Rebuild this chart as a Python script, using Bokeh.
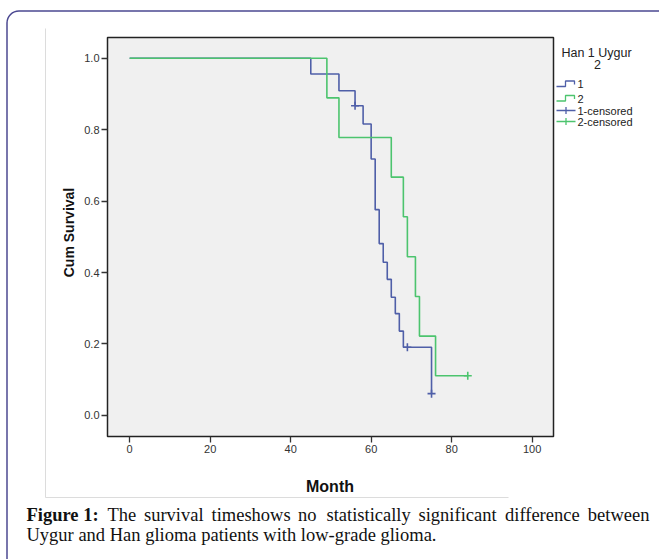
import math
from bokeh.plotting import figure
from bokeh.models import (Range1d, Label, BoxAnnotation, PolyAnnotation,
                          FixedTicker, PrintfTickFormatter)
from bokeh.embed import file_html
from bokeh.resources import INLINE

# ---- data ----
han_month = [0, 45, 52, 56, 58, 60, 61, 62, 63, 64, 65, 66, 67, 68, 75]
han_surv = [1.0, 0.956, 0.909, 0.867, 0.816, 0.718, 0.576, 0.481, 0.429,
            0.381, 0.331, 0.285, 0.236, 0.191, 0.061]
han_cens_month = [56, 69, 75]
han_cens_surv = [0.867, 0.191, 0.061]

uyg_month = [0, 49, 52, 65, 68, 69, 71, 72, 76]
uyg_surv = [1.0, 0.889, 0.778, 0.667, 0.556, 0.444, 0.333, 0.222, 0.111]
uyg_cens_month = [84]
uyg_cens_surv = [0.111]

x_ticks = [0, 20, 40, 60, 80, 100]
y_ticks = [0.0, 0.2, 0.4, 0.6, 0.8, 1.0]

legend_title = "Han 1 Uygur"
legend_title2 = "2"
legend_labels = ["1", "2", "1-censored", "2-censored"]

caption_words1 = ["Figure 1:", "The", "survival", "timeshows", "no",
                  "statistically", "significant", "difference", "between"]
caption_line2 = "Uygur and Han glioma patients with low-grade glioma."

BLUE = "#4f5fa8"
GREEN = "#4cc46e"

# ---- layout (page pixels) ----
W, H = 659, 559
FL, FR, FT, FB = 107, 553, 37, 436          # plot area in page pixels
X0, X1 = -5.5, 105.3                         # plot-area axis limits
Y0, Y1 = -0.059, 1.058
SX = (X1 - X0) / (FR - FL)
SY = (Y1 - Y0) / (FB - FT)
XS, XE = X0 - FL * SX, X0 + (W - FL) * SX    # whole-canvas ranges
YS, YE = Y0 - (H - FB) * SY, Y1 + FT * SY


def dx(px):
    return XS + px * SX


def dy(py):
    return YE - py * SY


p = figure(width=W, height=H, x_range=Range1d(XS, XE), y_range=Range1d(YS, YE),
           output_backend="svg", toolbar_location=None,
           min_border_left=0, min_border_right=0, min_border_top=0, min_border_bottom=0)
p.background_fill_color = "white"
p.border_fill_color = "white"
p.outline_line_color = None
p.grid.visible = False

# plot area background and frame
p.quad(left=[X0], right=[X1], bottom=[Y0], top=[Y1], fill_color="#f0f0f0",
       line_color="#222222", line_width=1.5)

p.xaxis.fixed_location = Y0
p.yaxis.fixed_location = X0
p.xaxis.ticker = FixedTicker(ticks=x_ticks, minor_ticks=[])
p.yaxis.ticker = FixedTicker(ticks=y_ticks, minor_ticks=[])
p.yaxis.formatter = PrintfTickFormatter(format="%.1f")
for ax in (p.xaxis[0], p.yaxis[0]):
    ax.axis_line_color = None
    ax.major_tick_in = 0
    ax.major_tick_out = 6
    ax.minor_tick_line_color = None
    ax.major_tick_line_color = "#333333"
    ax.major_tick_line_width = 1.3
    ax.major_label_text_font = "Liberation Sans"
    ax.major_label_text_font_size = "11px"
    ax.major_label_text_color = "#333333"
    ax.axis_label_text_font = "Liberation Sans"
    ax.axis_label_text_font_style = "bold"
    ax.axis_label_text_color = "#111111"
p.xaxis.major_label_standoff = 2
p.yaxis.major_label_standoff = 2
p.xaxis.axis_label = "Month"
p.xaxis.axis_label_text_font_size = "16px"
p.xaxis.axis_label_standoff = 22

# ---- survival curves ----
p.step(han_month, han_surv, mode="after", line_color=BLUE, line_width=1.6)
p.step(uyg_month + [uyg_cens_month[-1]], uyg_surv + [uyg_surv[-1]], mode="after",
       line_color=GREEN, line_width=1.6)
p.scatter(han_cens_month, han_cens_surv, marker="cross", size=8,
          line_color=BLUE, line_width=1.6)
p.scatter(uyg_cens_month, uyg_cens_surv, marker="cross", size=8,
          line_color=GREEN, line_width=1.6)

# y axis title
p.add_layout(Label(x=dx(68), y=dy(232), text="Cum Survival", angle=math.pi / 2,
                   text_align="center", text_baseline="middle",
                   text_font="Liberation Sans", text_font_style="bold",
                   text_font_size="14px", text_color="#111111"))


# ---- page decorations ----
def pbox(l, r, t, b, **kw):
    return BoxAnnotation(left=dx(l), right=dx(r), top=dy(t), bottom=dy(b), **kw)


p.add_layout(pbox(6.5, 720, 10.5, 640, fill_alpha=0, line_color="#4b4891",
                  line_alpha=1, line_width=1.5, border_radius=12, level="overlay"))
p.add_layout(pbox(44.5, 45.5, 28, 497, fill_color="#dcdcdc", fill_alpha=1,
                  line_color=None))
p.add_layout(pbox(45, 508, 496.5, 497.5, fill_color="#dcdcdc", fill_alpha=1,
                  line_color=None))


def poly_line(points, color):
    pts = points + points[-2:0:-1]
    return PolyAnnotation(xs=[dx(a) for a, b in pts], ys=[dy(b) for a, b in pts],
                          fill_alpha=0, line_color=color, line_alpha=1,
                          line_width=1.3, level="overlay")


def plabel(px, py, text, **kw):
    return Label(x=dx(px), y=dy(py), text=text, text_baseline="middle", **kw)


# ---- legend ----
p.add_layout(plabel(596, 52, legend_title, text_align="center",
                    text_font="Liberation Sans", text_font_size="12.5px",
                    text_color="#222222"))
p.add_layout(plabel(597, 63.5, legend_title2, text_align="center",
                    text_font="Liberation Sans", text_font_size="12.5px",
                    text_color="#222222"))
rows = [83.5, 98, 110, 121]
colors = [BLUE, GREEN, BLUE, GREEN]
for i, (yc, lab, col) in enumerate(zip(rows, legend_labels, colors)):
    if i < 2:
        pts = [(556, yc + 2.5), (565, yc + 2.5), (565, yc - 3), (574, yc - 3), (574, yc + 0.5)]
    else:
        pts = [(556, yc), (565.5, yc), (565.5, yc - 3.5), (565.5, yc + 3.5),
               (565.5, yc), (575, yc)]
    p.add_layout(poly_line(pts, col))
    p.add_layout(plabel(577, yc, lab, text_align="left",
                        text_font="Liberation Sans", text_font_size="11px",
                        text_color="#222222"))

# ---- caption (first line justified) ----
word_x = [26, 107, 143.5, 211, 297.5, 326, 418, 504.5, 649]
for i, (wx, w) in enumerate(zip(word_x, caption_words1)):
    p.add_layout(plabel(wx, 514, w,
                        text_align="right" if i == len(caption_words1) - 1 else "left",
                        text_font="Liberation Serif", text_font_size="18.5px",
                        text_color="#111111",
                        text_font_style="bold" if i == 0 else "normal"))
p.add_layout(plabel(26, 534, caption_line2, text_align="left",
                    text_font="Liberation Serif", text_font_size="18.5px",
                    text_color="#111111"))

open("out.html", "w").write(file_html(p, INLINE))
